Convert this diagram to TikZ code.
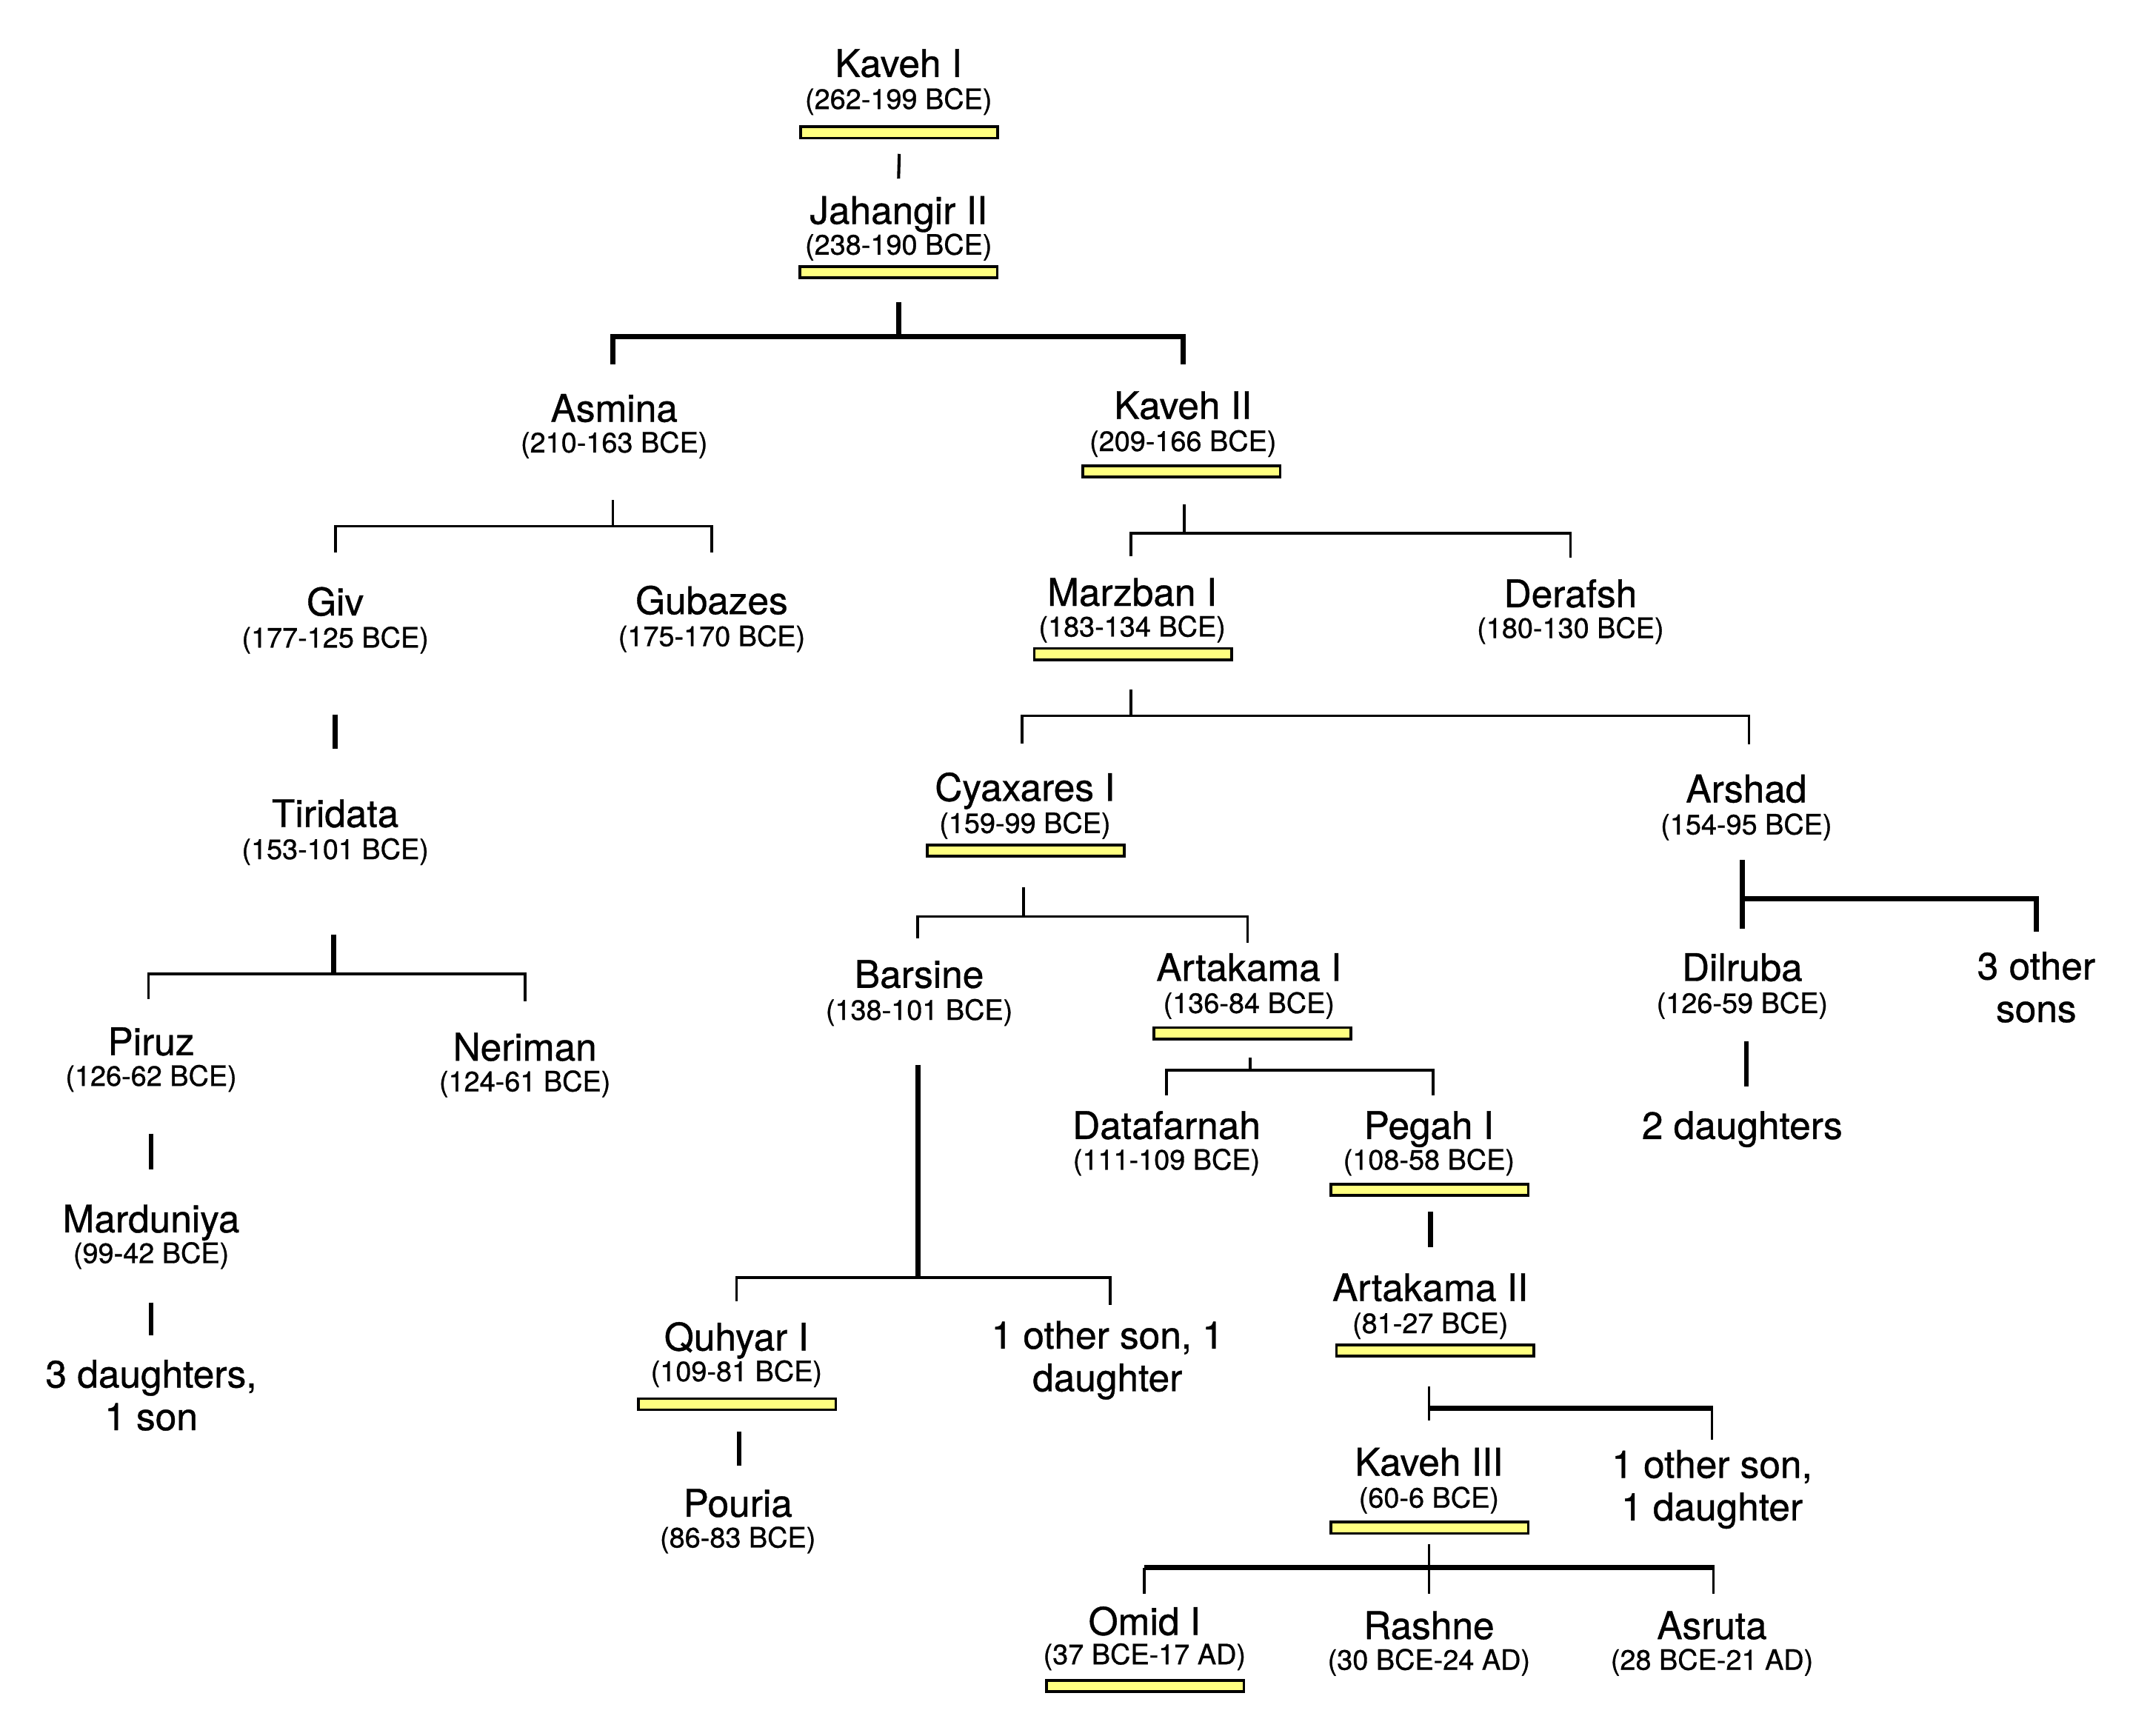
\documentclass[tikz,border=0pt]{standalone}
\usepackage{fontspec}
\setmainfont{TeX Gyre Heros}[FakeBold=0.8]
\usetikzlibrary{calc}
\definecolor{barfill}{RGB}{255,255,128}
\begin{document}
\begin{tikzpicture}[x=1pt,y=-1pt,
  nm/.style={font=\fontsize{27.7}{31}\selectfont, inner sep=0pt, text height=19.9pt, text depth=0pt},
  dt/.style={font=\fontsize{20.4}{24}\selectfont, inner sep=0pt, text height=14.6pt, text depth=0pt},
  multi/.style={font=\fontsize{27.7}{31}\selectfont, inner sep=0pt, align=center},
  bar/.style={draw=black, line width=2pt, fill=barfill, minimum width=143.5pt, minimum height=8.2pt, inner sep=0pt},
  thinl/.style={line width=2pt},
  thickl/.style={line width=3.6pt}]
\fill[white] (0,0) rectangle (1567,1263.5);
\useasboundingbox (0,0) rectangle (1567,1263.5);

% ---- people ----
\node[nm] (kaveh1) at (654,46) {Kaveh I};
\node[dt] (kaveh1d) at (654,72) {(262-199 BCE)};
\node[bar] (kaveh1b) at (654.5,96.4) {};

\node[nm] (jahangir) at (654,153) {Jahangir II};
\node[dt] (jahangird) at (654,178) {(238-190 BCE)};
\node[bar] (jahangirb) at (654,198) {};

\node[nm] (asmina) at (447,297) {Asmina};
\node[dt] (asminad) at (447,322) {(210-163 BCE)};

\node[nm] (kaveh2) at (861,295) {Kaveh II};
\node[dt] (kaveh2d) at (861,321) {(209-166 BCE)};
\node[bar] (kaveh2b) at (860,343) {};

\node[nm] (giv) at (244,438) {Giv};
\node[dt] (givd) at (244,464) {(177-125 BCE)};

\node[nm] (gubazes) at (518,437) {Gubazes};
\node[dt] (gubazesd) at (518,463) {(175-170 BCE)};

\node[nm] (marzban) at (824,431) {Marzban I};
\node[dt] (marzband) at (824,456) {(183-134 BCE)};
\node[bar] (marzbanb) at (824.5,476) {};

\node[nm] (derafsh) at (1143,432) {Derafsh};
\node[dt] (derafshd) at (1143,457) {(180-130 BCE)};

\node[nm] (tiridata) at (244,592) {Tiridata};
\node[dt] (tiridatad) at (244,618) {(153-101 BCE)};

\node[nm] (piruz) at (110,758) {Piruz};
\node[dt] (piruzd) at (110,783) {(126-62 BCE)};

\node[nm] (neriman) at (382,762) {Neriman};
\node[dt] (nerimand) at (382,787) {(124-61 BCE)};

\node[nm] (marduniya) at (110,887) {Marduniya};
\node[dt] (marduniyad) at (110,912) {(99-42 BCE)};

\node[multi] (mardch) at (110,1015.5) {3 daughters,\\1 son};

\node[nm] (cyaxares) at (746,573) {Cyaxares I};
\node[dt] (cyaxaresd) at (746,599) {(159-99 BCE)};
\node[bar] (cyaxaresb) at (746.5,619) {};

\node[nm] (arshad) at (1271,574) {Arshad};
\node[dt] (arshadd) at (1271,600) {(154-95 BCE)};

\node[nm] (barsine) at (669,709) {Barsine};
\node[dt] (barsined) at (669,735) {(138-101 BCE)};

\node[nm] (artakama1) at (909,704) {Artakama I};
\node[dt] (artakama1d) at (909,730) {(136-84 BCE)};
\node[bar] (artakama1b) at (911.5,752) {};

\node[nm] (dilruba) at (1268,704) {Dilruba};
\node[dt] (dilrubad) at (1268,730) {(126-59 BCE)};

\node[multi] (othersons) at (1482,718.5) {3 other\\sons};

\node[nm] (dilch) at (1268,819) {2 daughters};

\node[nm] (datafarnah) at (849,819) {Datafarnah};
\node[dt] (datafarnahd) at (849,844) {(111-109 BCE)};

\node[nm] (pegah) at (1040,819) {Pegah I};
\node[dt] (pegahd) at (1040,844) {(108-58 BCE)};
\node[bar] (pegahb) at (1040.5,866) {};

\node[nm] (artakama2) at (1041,937) {Artakama II};
\node[dt] (artakama2d) at (1041,963) {(81-27 BCE)};
\node[bar] (artakama2b) at (1044.5,983) {};

\node[nm] (kaveh3) at (1040,1064) {Kaveh III};
\node[dt] (kaveh3d) at (1040,1090) {(60-6 BCE)};
\node[bar] (kaveh3b) at (1040.5,1112) {};

\node[multi] (art2ch) at (1246,1084) {1 other son,\\1 daughter};

\node[nm] (omid) at (833,1180) {Omid I};
\node[dt] (omidd) at (833,1204) {(37 BCE-17 AD)};
\node[bar] (omidb) at (833.5,1227) {};

\node[nm] (rashne) at (1040,1183) {Rashne};
\node[dt] (rashned) at (1040,1208) {(30 BCE-24 AD)};

\node[nm] (asruta) at (1246,1183) {Asruta};
\node[dt] (asrutad) at (1246,1208) {(28 BCE-21 AD)};

\node[nm] (quhyar) at (536,973) {Quhyar I};
\node[dt] (quhyard) at (536,998) {(109-81 BCE)};
\node[bar] (quhyarb) at (536.5,1022) {};

\node[multi] (barsch) at (806,990) {1 other son, 1\\daughter};

\node[nm] (pouria) at (537,1094) {Pouria};
\node[dt] (pouriad) at (537,1119) {(86-83 BCE)};

% ---- connectors ----
\draw[line width=2.2pt] (kaveh1b.south |- 0,112) -- (jahangir.north |- 0,130);

\draw[thickl] (jahangirb.south |- 0,220) -- (jahangirb.south |- 0,245);
\draw[thickl] (446,265) -- (446,245) -- (kaveh2.north |- 0,245) -- (kaveh2.north |- 0,265);

\draw[thinl] (446,364) -- (446,383);
\draw[thinl] (giv.north |- 0,402) -- (giv.north |- 0,383) -- (gubazes.north |- 0,383) -- (gubazes.north |- 0,402);

\draw[thinl] (862,367) -- (862,388);
\draw[thinl] (823,405) -- (823,388) -- (derafsh.north |- 0,388) -- (derafsh.north |- 0,406);

\draw[thickl] (giv.north |- 0,520) -- (tiridata.north |- 0,545);

\draw[thickl] (243,680) -- (243,709);
\draw[thinl] (108,727) -- (108,709) -- (neriman.north |- 0,709) -- (neriman.north |- 0,729);

\draw[thickl] (piruz.north |- 0,825) -- (marduniya.north |- 0,851);
\draw[thickl] (marduniya.north |- 0,948) -- (mardch.north |- 0,972);

\draw[thinl] (823,502) -- (823,521);
\draw[thinl] (744,541) -- (744,521) -- (1273,521) -- (1273,542);

\draw[thinl] (745,646) -- (745,667);
\draw[thinl] (668,683) -- (668,667) -- (908,667) -- (908,686);

\draw[thickl] (1268,626) -- (1268,676);
\draw[thickl] (1268,654) -| (othersons.north |- 0,678);
\draw[thickl] (1271,758) -- (1271,791);

\draw[thinl] (910,770) -- (910,779);
\draw[thinl] (datafarnah.north |- 0,797) -- (datafarnah.north |- 0,779) -- (1043,779) -- (1043,797);

\draw[thickl] (1041,882) -- (1041,908);

\draw[thinl] (1040,1009) -- (1040,1034);
\draw[thickl] (1040,1025) -- (1247,1025);
\draw[thinl] (1246,1025) -- (1246,1048);

\draw[thinl] (1040,1124) -- (1040,1160);
\draw[thickl] (833,1141) -- (1248,1141);
\draw[thinl] (833,1141) -- (833,1160);
\draw[thinl] (1247,1141) -- (1247,1160);

\draw[thickl] (668,775) -- (668,930);
\draw[thinl] (536,947) -- (536,930) -- (808,930) -- (808,950);

\draw[thickl] (538,1042) -- (538,1067);
\end{tikzpicture}
\end{document}
